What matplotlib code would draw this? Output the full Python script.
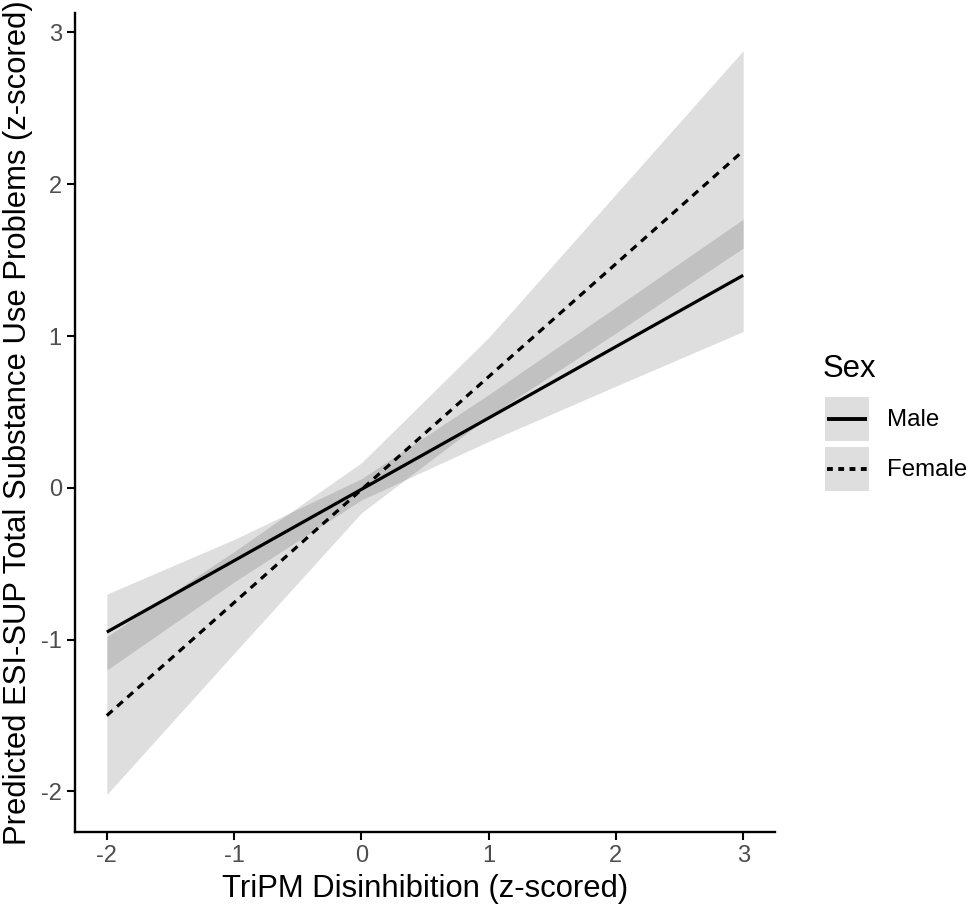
#!/usr/bin/env python3

import matplotlib
matplotlib.use("Agg")
import matplotlib.pyplot as plt

plt.rcParams["font.family"] = ["Liberation Sans", "DejaVu Sans"]

# predicted values at integer disinhibition scores
x_vals = [-2, -1, 0, 1, 2, 3]
male_fit = [-0.95, -0.48, -0.01, 0.46, 0.93, 1.40]
male_lo = [-1.20, -0.62, -0.08, 0.306, 0.67, 1.03]
male_hi = [-0.70, -0.34, 0.06, 0.614, 1.19, 1.77]
female_fit = [-1.50, -0.756, -0.012, 0.732, 1.476, 2.22]
female_lo = [-2.02, -1.09, -0.165, 0.47, 1.02, 1.58]
female_hi = [-0.98, -0.42, 0.165, 0.99, 1.935, 2.88]

sexes = ["Male", "Female"]
line_styles = ["-", (0, (2.4, 1.9))]
x_ticks = [-2, -1, 0, 1, 2, 3]
y_ticks = [-2, -1, 0, 1, 2, 3]

W, H = 968, 908
band_kw = dict(color="black", alpha=0.13, linewidth=0)

fig = plt.figure(figsize=(W / 100, H / 100), dpi=100)
ax = fig.add_axes([75 / W, 1 - 831.7 / H, 700 / W, 819 / H])

ax.fill_between(x_vals, male_lo, male_hi, **band_kw)
ax.fill_between(x_vals, female_lo, female_hi, **band_kw)
ax.plot(x_vals, male_fit, color="black", linewidth=2.3, linestyle=line_styles[0],
        solid_capstyle="butt")
ax.plot(x_vals, female_fit, color="black", linewidth=2.3,
        linestyle=line_styles[1], dash_capstyle="butt")

ax.set_xlim(-2.25, 3.25)
ax.set_ylim(-2.265, 3.13)
ax.set_xticks(x_ticks)
ax.set_xticklabels([str(t) for t in x_ticks])
ax.set_yticks(y_ticks)
ax.set_yticklabels([str(t) for t in y_ticks])

for side in ["top", "right"]:
    ax.spines[side].set_visible(False)
for side in ["left", "bottom"]:
    ax.spines[side].set_linewidth(1.7)
ax.tick_params(length=5.5, width=1.5, labelsize=17, labelcolor="#4D4D4D",
               pad=4)

ax.set_xlabel("TriPM Disinhibition (z-scored)", fontsize=22.3, labelpad=5)
ax.set_ylabel("Predicted ESI-SUP Total Substance Use Problems (z-scored)",
              fontsize=22.3, labelpad=6)

# legend, drawn ggplot style: grey key boxes with the line inside
fig.text(823 / W, 1 - 377 / H, "Sex", fontsize=22.3, va="baseline", ha="left")
for i, sex in enumerate(sexes):
    top = 397 + i * 50
    key = fig.add_axes([825 / W, 1 - (top + 44) / H, 44 / W, 44 / H])
    key.set_facecolor("#DEDEDE")
    key.set_xlim(0, 1)
    key.set_ylim(0, 1)
    key.set_xticks([])
    key.set_yticks([])
    for s in key.spines.values():
        s.set_visible(False)
    dash = line_styles[i] if i == 0 else (0, (1.5, 1.4))
    key.plot([0.05, 0.95], [0.5, 0.5], color="black", linewidth=2.8,
             linestyle=dash, dash_capstyle="butt", solid_capstyle="butt")
    fig.text(887 / W, 1 - (top + 23) / H, sex, fontsize=17.3,
             va="center", ha="left")

fig.savefig("out.png", dpi=100)
